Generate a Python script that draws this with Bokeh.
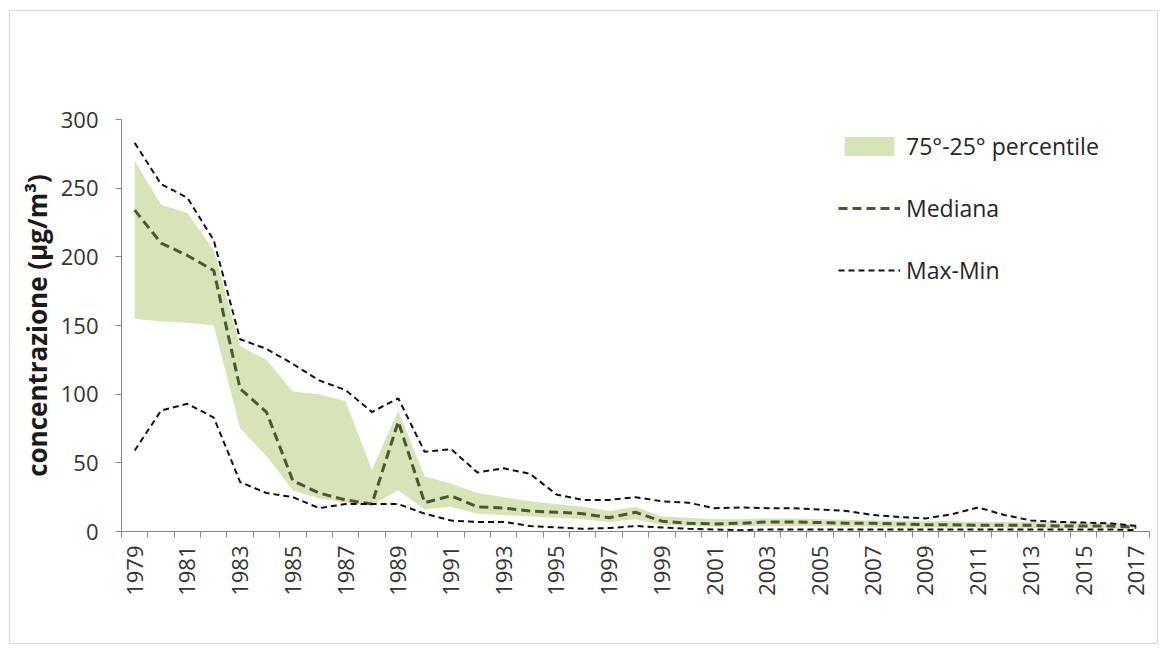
from math import pi
from bokeh.plotting import figure
from bokeh.models import Range1d, FixedTicker, Legend, LegendItem
from bokeh.embed import file_html
from bokeh.resources import INLINE

years = list(range(1979, 2018))
p75 = [270, 238, 232, 205, 135, 125, 102, 100, 95, 45, 88, 40, 35, 28, 25, 22, 20, 18, 15, 18,
       11, 10, 9, 9, 9.5, 9.5, 9, 8.5, 8, 8, 7.5, 7.5, 7, 7, 7, 6.5, 6.5, 6, 5]
p25 = [155, 153, 152, 150, 75, 55, 30, 24, 21, 19, 30, 16, 18, 13, 12, 11, 10, 9, 7, 9,
       5, 4, 3.5, 4, 4, 4, 4, 3.5, 3.5, 3, 3, 3, 3, 3, 2.5, 2.5, 2.5, 2.5, 2]
mediana = [234, 210, 201, 190, 104, 87, 37, 28, 23, 20, 80, 21, 26, 18, 17, 15, 14, 13, 10, 14,
           7.5, 6, 5.5, 6, 7, 7, 6.5, 6, 6, 5.5, 5, 5, 4.5, 4.5, 4.5, 4, 4, 4, 3]
vmax = [283, 253, 243, 212, 140, 133, 122, 110, 103, 87, 97, 58, 60, 43, 46, 42, 27, 23, 23, 25,
        22, 21, 17, 17.5, 17, 17, 16, 15, 12, 10.5, 9.5, 12.5, 17.5, 12, 8, 7, 6.5, 6, 4]
vmin = [59, 88, 93, 83, 36, 28, 25, 17, 20, 20, 20, 13, 8, 7, 7, 4, 3, 2, 2.5, 4,
        3, 2, 1.5, 1, 1.5, 1.5, 1.5, 1.5, 1.5, 1.5, 1.5, 1.5, 1.5, 1.5, 1.5, 1.5, 1.5, 1.5, 1]
y_ticks = [0, 50, 100, 150, 200, 250, 300]
x_label_years = [y for y in years if y % 2 == 1]

FONT = "Open Sans"
W, H = 1149, 634

p = figure(width=W, height=H, output_backend="svg", toolbar_location=None,
           x_range=Range1d(years[0] - 0.5, years[-1] + 0.5), y_range=Range1d(0, 300),
           min_border_left=111, min_border_top=108, min_border_right=10, min_border_bottom=114)
p.styles = {"border": "1px solid #d9d9d9", "margin-left": "9px", "margin-top": "10px"}
p.outline_line_color = None
p.xgrid.visible = False
p.ygrid.visible = False
p.background_fill_color = "white"
p.border_fill_color = "white"

band = p.varea(x=years, y1=p25, y2=p75, fill_color="#d3e1b0", fill_alpha=0.9)
med = p.line(years, mediana, line_color="#4b5632", line_width=3, line_dash="9 5")
mx = p.line(years, vmax, line_color="#111111", line_width=2, line_dash="6 4")
mn = p.line(years, vmin, line_color="#111111", line_width=2, line_dash="6 4")

# axes
yax = p.yaxis[0]
yax.ticker = FixedTicker(ticks=y_ticks)
yax.axis_line_color = "#868686"
yax.major_tick_line_color = "#868686"
yax.major_tick_out = 6
yax.major_tick_in = 0
yax.minor_tick_line_color = None
yax.major_label_text_font = FONT
yax.major_label_text_font_size = "22px"
yax.major_label_text_color = "#333333"
yax.major_label_standoff = 17
yax.axis_label = "concentrazione (µg/m³)"
yax.axis_label_text_font = FONT
yax.axis_label_text_font_style = "bold"
yax.axis_label_text_font_size = "26px"
yax.axis_label_text_color = "#1a1a1a"
yax.axis_label_standoff = 3

xax = p.xaxis[0]
xax.ticker = FixedTicker(ticks=x_label_years, minor_ticks=[y - 0.5 for y in years] + [years[-1] + 0.5])
xax.axis_line_color = "#868686"
xax.major_tick_line_color = None
xax.major_tick_out = 0
xax.major_tick_in = 0
xax.minor_tick_line_color = "#868686"
xax.minor_tick_out = 6
xax.minor_tick_in = 0
xax.major_label_orientation = pi / 2
xax.major_label_text_font = FONT
xax.major_label_text_font_size = "22px"
xax.major_label_text_color = "#333333"
xax.major_label_standoff = 8

legend = Legend(items=[
    LegendItem(label="75°-25° percentile", renderers=[band]),
    LegendItem(label="Mediana", renderers=[med]),
    LegendItem(label="Max-Min", renderers=[mx]),
], location=(717, 245), orientation="vertical")
legend.padding = 0
legend.margin = 0
legend.spacing = 30
legend.glyph_width = 62
legend.glyph_height = 24
legend.label_height = 30
legend.label_standoff = 6
legend.label_text_font = FONT
legend.label_text_font_size = "23px"
legend.label_text_color = "#262626"
legend.border_line_color = None
legend.background_fill_alpha = 0
p.add_layout(legend)

open("out.html", "w").write(file_html(p, INLINE))
